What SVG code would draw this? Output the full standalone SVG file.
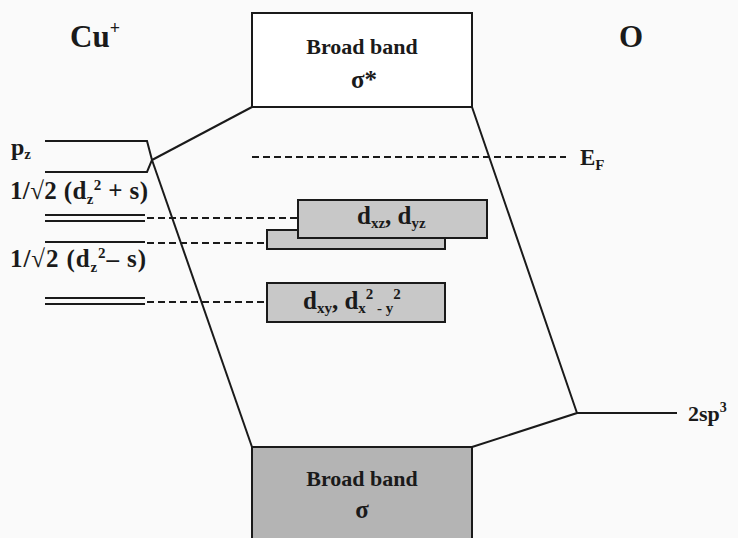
<svg xmlns="http://www.w3.org/2000/svg" width="738" height="538" viewBox="0 0 738 538">
<style>
text{font-family:"Liberation Serif","Times New Roman",serif;font-weight:bold;fill:#1a1a1a}
.ln{stroke:#1a1a1a;stroke-width:2;fill:none}
.dash{stroke:#1a1a1a;stroke-width:2;fill:none;stroke-dasharray:7,4}
.box{stroke:#1a1a1a;stroke-width:2}
.sub{font-size:15px}
</style>
<rect width="738" height="538" fill="#fafafa"/>
<g id="connectors">
<path class="ln" d="M45,141 H147 L152,160 L147,172 H45"/>
<path class="ln" d="M152,160 L252,107"/>
<path class="ln" d="M152,160 L252,447"/>
<path class="ln" d="M472,107 L577,413 L472,447"/>
<path class="ln" d="M577,413 H677"/>
<path class="ln" d="M45,215 H145 M45,221 H145"/>
<path class="ln" d="M45,242 H145"/>
<path class="ln" d="M45,298 H145 M45,304 H145"/>
<path class="dash" d="M147,218 H298"/>
<path class="dash" d="M147,243 H267"/>
<path class="dash" d="M147,302 H267"/>
<path class="dash" d="M252,157 H566"/>
</g>
<g id="cu-label"><text x="70" y="47" font-size="31">Cu<tspan font-size="18" dy="-13">+</tspan></text></g>
<g id="o-label"><text x="619" y="47" font-size="31">O</text></g>
<g id="pz-label"><text x="11" y="155" font-size="24">p<tspan class="sub" dy="4">z</tspan></text></g>
<g id="dz2-plus-label"><text x="10" y="199" font-size="25" textLength="138">1/√2 (d<tspan class="sub" dy="5">z</tspan><tspan class="sub" dy="-14">2</tspan><tspan dy="9"> + s)</tspan></text></g>
<g id="dz2-minus-label"><text x="10" y="267" font-size="25" textLength="136">1/√2 (d<tspan class="sub" dy="5">z</tspan><tspan class="sub" dy="-14">2</tspan><tspan dy="9">– s)</tspan></text></g>
<g id="ef-label"><text x="580" y="165" font-size="23">E<tspan class="sub" dy="5">F</tspan></text></g>
<g id="sp3-label"><text x="688" y="421" font-size="22">2sp<tspan font-size="14" dy="-9">3</tspan></text></g>
<g id="sigma-star-band">
<rect class="box" x="252" y="13" width="220" height="94" fill="#ffffff"/>
<text x="362" y="54" font-size="22" text-anchor="middle">Broad band</text>
<text x="364" y="88" font-size="25" text-anchor="middle">σ*</text>
</g>
<g id="back-d-box"><rect class="box" x="267" y="230" width="178" height="19" fill="#c8c8c8"/></g>
<g id="dxz-dyz-box">
<rect class="box" x="298" y="200" width="189" height="38" fill="#c8c8c8"/>
<text x="357" y="224" font-size="25">d<tspan class="sub" dy="4">xz</tspan><tspan dy="-4">,  d</tspan><tspan class="sub" dy="4">yz</tspan></text>
</g>
<g id="dxy-box">
<rect class="box" x="267" y="283" width="178" height="39" fill="#c8c8c8"/>
<text x="303" y="309" font-size="25">d<tspan class="sub" dy="4">xy</tspan><tspan dy="-4">,  d</tspan><tspan class="sub" dy="4">x</tspan><tspan class="sub" dy="-14">2</tspan><tspan class="sub" dy="14"> - y</tspan><tspan class="sub" dy="-14">2</tspan></text>
</g>
<g id="sigma-band">
<rect class="box" x="252" y="447" width="220" height="100" fill="#b4b4b4"/>
<text x="362" y="486" font-size="22" text-anchor="middle">Broad band</text>
<text x="362" y="518" font-size="25" text-anchor="middle">σ</text>
</g>
</svg>
